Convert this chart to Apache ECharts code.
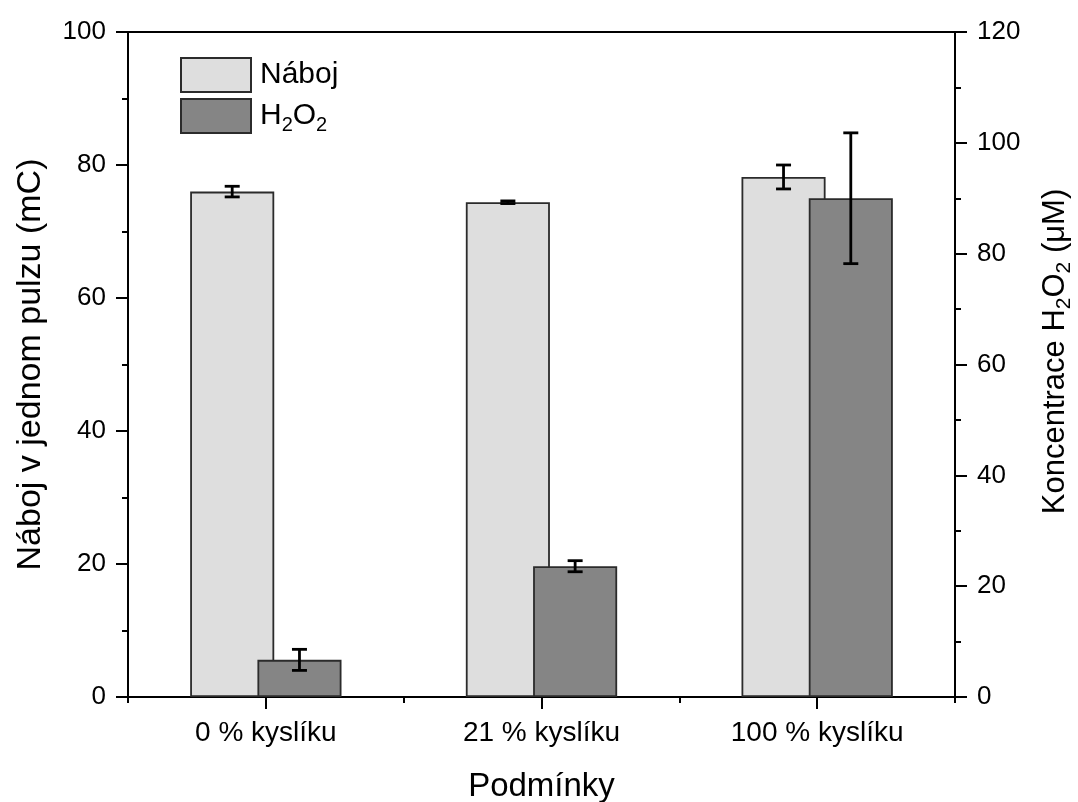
<!DOCTYPE html>
<html>
<head>
<meta charset="utf-8">
<script src="https://cdn.jsdelivr.net/npm/echarts@6/dist/echarts.min.js"></script>
<style>
  html, body { margin: 0; padding: 0; background: #fff; }
  #chart { width: 1078px; height: 802px; }
</style>
</head>
<body>
<div id="chart"></div>
<script>
// ---- data ----
const categories = ['0 % kyslíku', '21 % kyslíku', '100 % kyslíku'];
const nabojValues = [76.0, 74.4, 78.2];
const nabojErrors = [0.8, 0.2, 1.8];
const h2o2Values = [6.7, 23.6, 90.0];
const h2o2Errors = [1.9, 1.0, 11.8];
const leftAxisRange = [0, 100];
const rightAxisRange = [0, 120];
const axisInterval = 20;

// ---- style constants ----
const FONT = "'Liberation Sans', Arial, Helvetica, sans-serif";
const BAR_FRAC = 0.305;      // bar width as fraction of category band
const BAR_GAP = -0.2;        // overlap between the two bars
const CAP = 15;

const chart = echarts.init(document.getElementById('chart'), null, { renderer: 'canvas' });

function errData(vals, errs) {
  return vals.map((v, i) => [i, v, errs[i]]);
}

function makeErrRender(sign) {
  return function (params, api) {
    const xi = api.value(0), v = api.value(1), e = api.value(2);
    const c = api.coord([xi, v]);
    const top = api.coord([xi, v + e]);
    const bot = api.coord([xi, v - e]);
    const band = api.size([1, 0])[0];
    const bw = band * BAR_FRAC;
    const offset = (bw * (1 + BAR_GAP)) / 2;
    const cx = c[0] + sign * offset;
    const st = { stroke: '#000', lineWidth: 2.8 };
    return {
      type: 'group',
      children: [
        { type: 'line', shape: { x1: cx, y1: top[1], x2: cx, y2: bot[1] }, style: st },
        { type: 'line', shape: { x1: cx - CAP / 2, y1: top[1], x2: cx + CAP / 2, y2: top[1] }, style: st },
        { type: 'line', shape: { x1: cx - CAP / 2, y1: bot[1], x2: cx + CAP / 2, y2: bot[1] }, style: st }
      ]
    };
  };
}

const axisLineStyle = { color: '#000', width: 2 };
const subRich = {
  n: { fontSize: 30, fontFamily: FONT, color: '#000', lineHeight: 30 },
  s: { fontSize: 20, fontFamily: FONT, color: '#000', lineHeight: 20, padding: [18, 0, 0, 0] }
};
const nameRich = {
  n: { fontSize: 31, fontFamily: FONT, color: '#000', lineHeight: 31 },
  s: { fontSize: 21, fontFamily: FONT, color: '#000', lineHeight: 21, padding: [18, 0, 0, 0] }
};

const option = {
  animation: false,
  backgroundColor: '#fff',
  textStyle: { fontFamily: FONT, color: '#000' },
  grid: {
    left: 128, right: 123, top: 32, bottom: 105,
    containLabel: false,
    outerBoundsMode: 'none',
    show: true, borderColor: '#000', borderWidth: 2, backgroundColor: 'transparent'
  },
  legend: {
    data: ['Náboj', 'H2O2'],
    orient: 'vertical',
    left: 175, top: 52,
    itemWidth: 70, itemHeight: 34, itemGap: 4,
    icon: 'rect',
    textStyle: { fontSize: 30, fontFamily: FONT, color: '#000', padding: [0, 0, 0, 4], rich: subRich },
    formatter: function (name) {
      if (name === 'H2O2') return '{n|H}{s|2}{n|O}{s|2}';
      return name;
    }
  },
  xAxis: [
    {
      type: 'category',
      data: categories,
      position: 'bottom',
      axisLine: { show: true, lineStyle: axisLineStyle },
      axisTick: { show: true, alignWithLabel: true, length: 12, inside: false, lineStyle: { color: '#000', width: 2 } },
      axisLabel: { fontSize: 28, fontFamily: FONT, color: '#000', margin: 22 },
      splitLine: { show: false },
      name: 'Podmínky',
      nameLocation: 'middle',
      nameGap: 73,
      nameTextStyle: { fontSize: 33, fontFamily: FONT, color: '#000' }
    },
    {
      type: 'category',
      data: categories,
      position: 'bottom',
      axisLine: { show: false },
      axisTick: { show: true, alignWithLabel: false, length: 6, inside: false, lineStyle: { color: '#000', width: 2 } },
      axisLabel: { show: false },
      splitLine: { show: false }
    }
  ],
  yAxis: [
    {
      type: 'value',
      position: 'left',
      min: leftAxisRange[0], max: leftAxisRange[1], interval: axisInterval,
      axisLine: { show: true, lineStyle: axisLineStyle },
      axisTick: { show: true, length: 12, inside: false, lineStyle: { color: '#000', width: 2 } },
      minorTick: { show: true, splitNumber: 2, length: 6, lineStyle: { color: '#000', width: 2 } },
      axisLabel: { fontSize: 26, fontFamily: FONT, color: '#000', margin: 22 },
      splitLine: { show: false },
      minorSplitLine: { show: false },
      name: 'Náboj v jednom pulzu (mC)',
      nameLocation: 'middle',
      nameRotate: 90,
      nameGap: 80,
      nameTextStyle: { fontSize: 34, fontFamily: FONT, color: '#000' }
    },
    {
      type: 'value',
      position: 'right',
      min: rightAxisRange[0], max: rightAxisRange[1], interval: axisInterval,
      axisLine: { show: true, lineStyle: axisLineStyle },
      axisTick: { show: true, length: 12, inside: false, lineStyle: { color: '#000', width: 2 } },
      minorTick: { show: true, splitNumber: 2, length: 6, lineStyle: { color: '#000', width: 2 } },
      axisLabel: { fontSize: 26, fontFamily: FONT, color: '#000', margin: 22 },
      splitLine: { show: false },
      minorSplitLine: { show: false },
      name: '{n|Koncentrace H}{s|2}{n|O}{s|2}{n| (\u03bcM)}',
      nameLocation: 'middle',
      nameRotate: 90,
      nameGap: 85,
      nameTextStyle: { fontSize: 31, fontFamily: FONT, color: '#000', rich: nameRich, padding: [0, 0, 0, 26] }
    }
  ],
  series: [
    {
      name: 'Náboj',
      type: 'bar',
      xAxisIndex: 0, yAxisIndex: 0,
      data: nabojValues,
      barWidth: (BAR_FRAC * 100) + '%',
      barGap: (BAR_GAP * 100) + '%',
      itemStyle: { color: '#dedede', borderColor: '#2b2b2b', borderWidth: 1.8 },
      z: 2
    },
    {
      name: 'H2O2',
      type: 'bar',
      xAxisIndex: 0, yAxisIndex: 1,
      data: h2o2Values,
      barWidth: (BAR_FRAC * 100) + '%',
      barGap: (BAR_GAP * 100) + '%',
      itemStyle: { color: '#858585', borderColor: '#2b2b2b', borderWidth: 1.8 },
      z: 3
    },
    {
      name: 'nabojErr',
      type: 'custom',
      xAxisIndex: 0, yAxisIndex: 0,
      data: errData(nabojValues, nabojErrors),
      encode: { x: 0, y: 1 },
      renderItem: makeErrRender(-1),
      z: 5
    },
    {
      name: 'h2o2Err',
      type: 'custom',
      xAxisIndex: 0, yAxisIndex: 1,
      data: errData(h2o2Values, h2o2Errors),
      encode: { x: 0, y: 1 },
      renderItem: makeErrRender(1),
      z: 5
    }
  ]
};
chart.setOption(option);
</script>
</body>
</html>
